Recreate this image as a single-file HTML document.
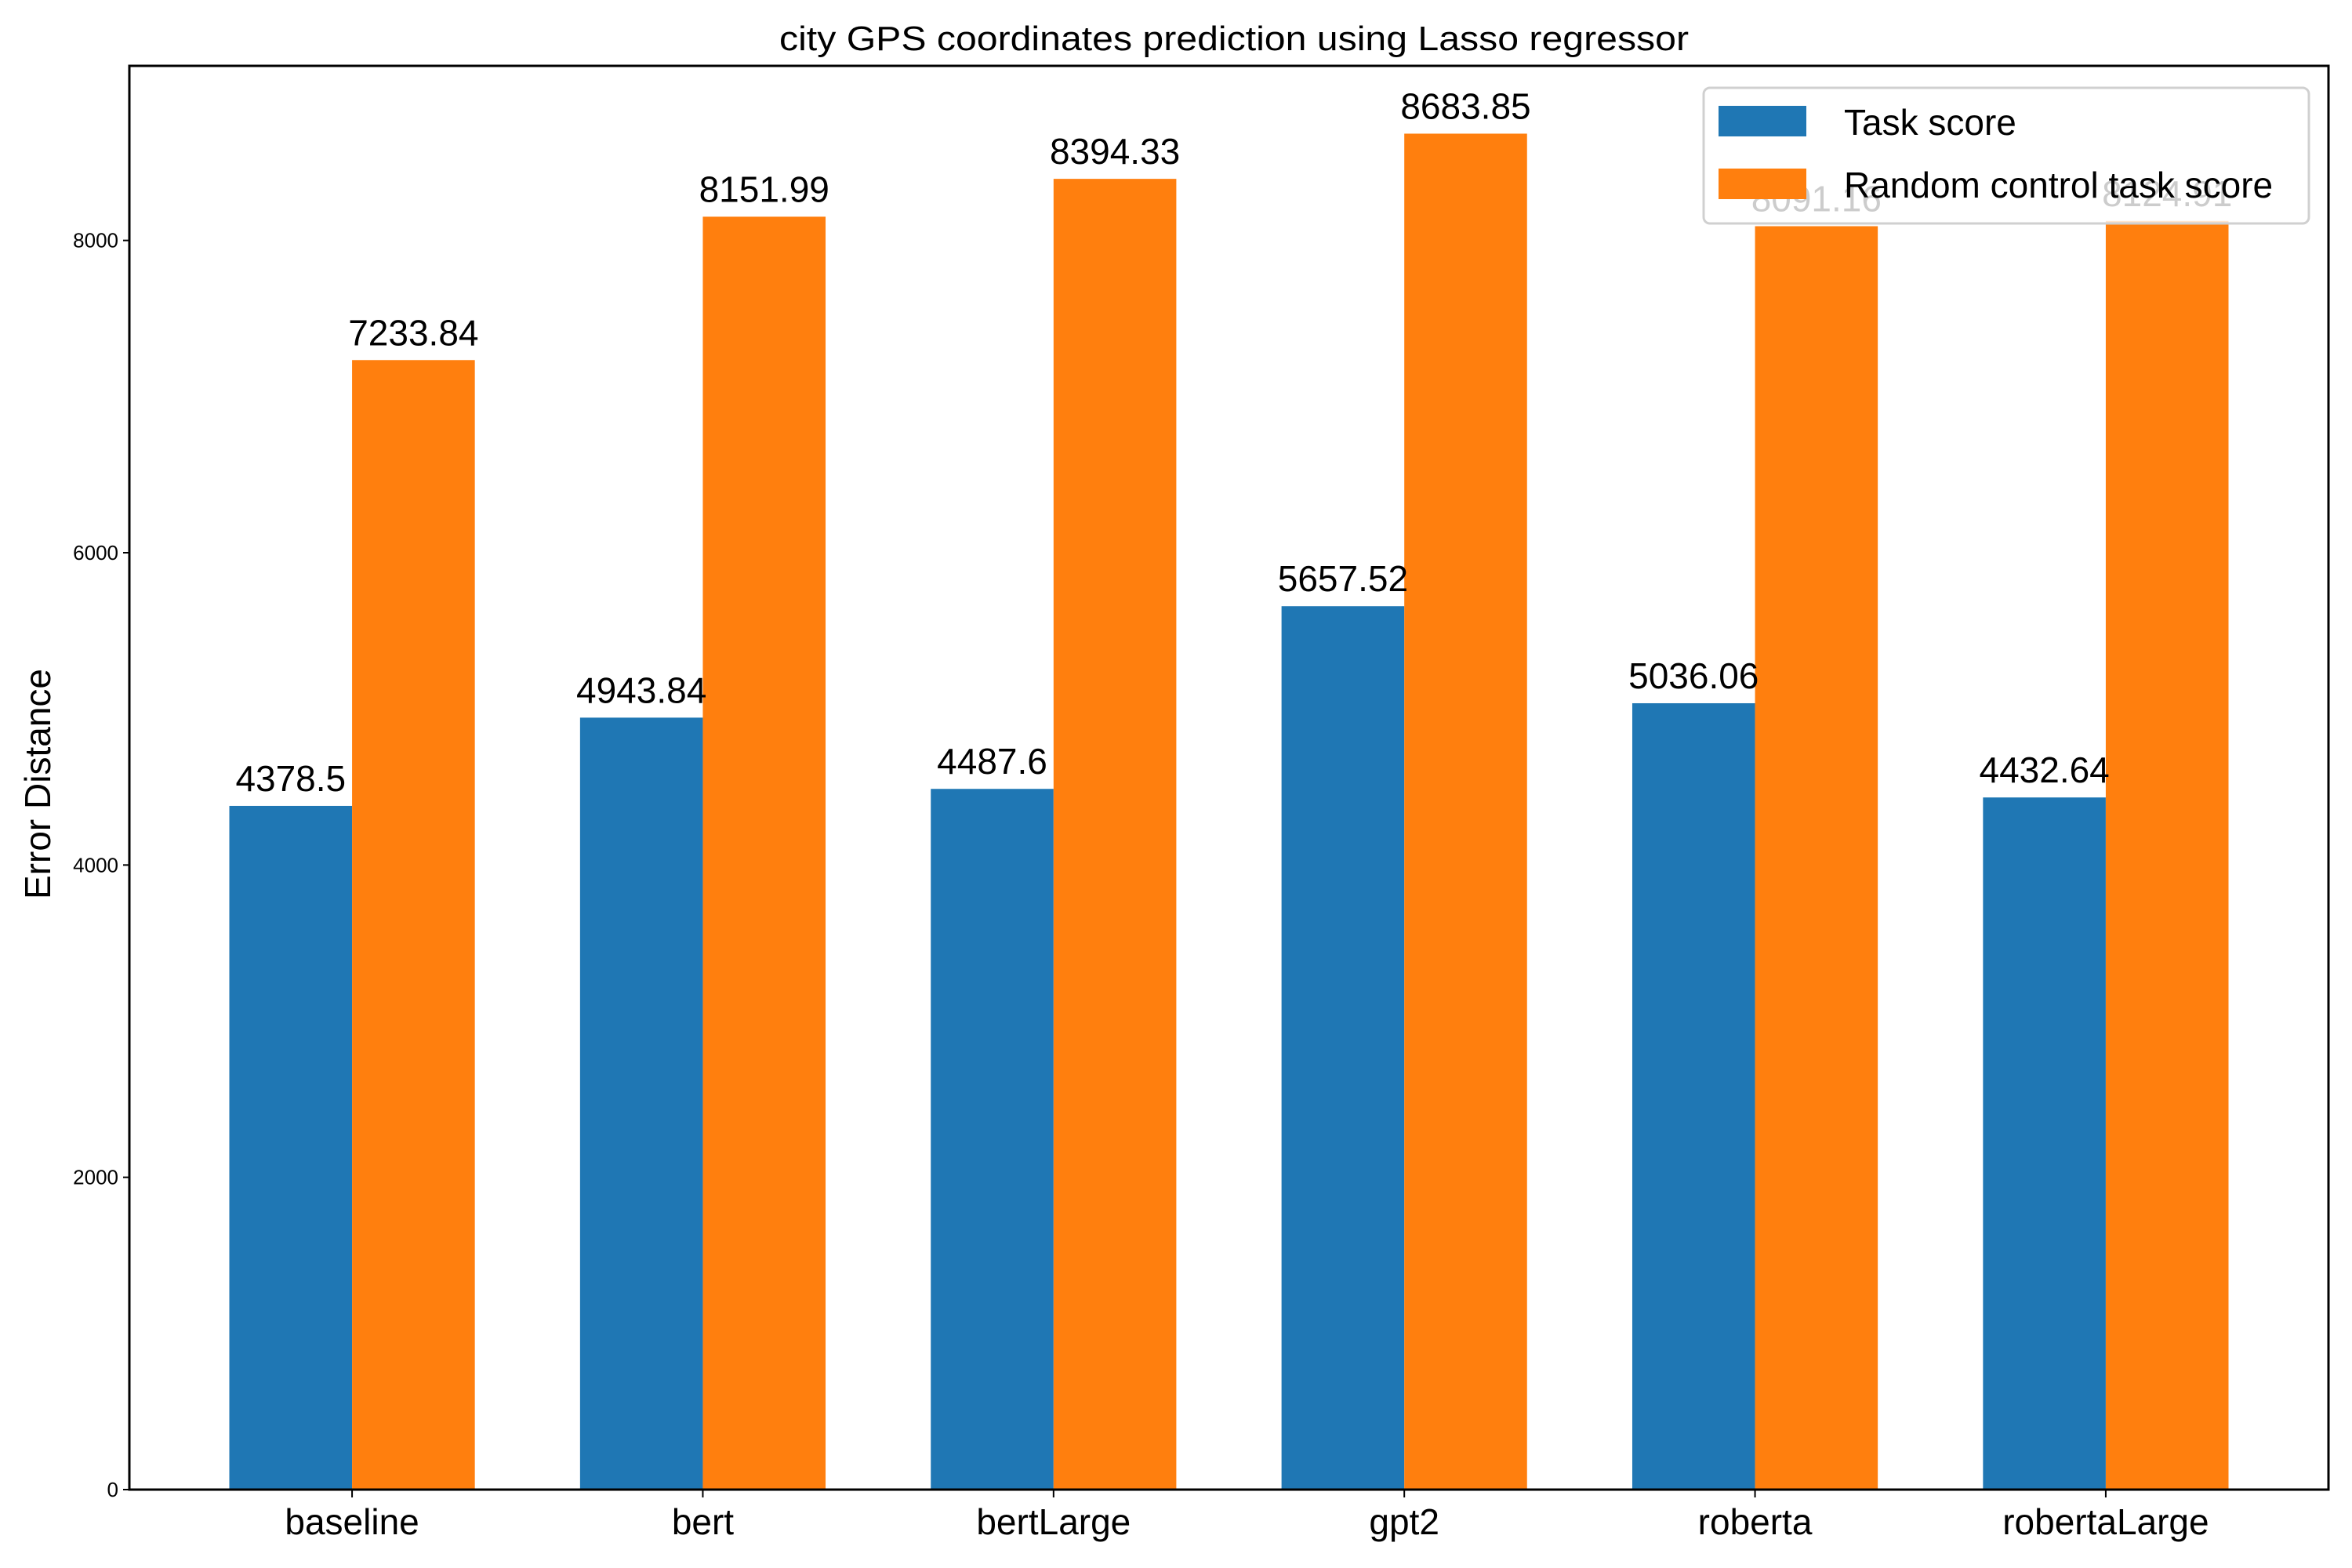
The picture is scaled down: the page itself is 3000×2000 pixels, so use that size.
<!DOCTYPE html>
<html><head><meta charset="utf-8"><style>
html,body{margin:0;padding:0;background:#fff;}
svg{display:block;}
text{font-family:"Liberation Sans",sans-serif;}
</style></head>
<body>
<svg id="chart" width="3000" height="2000" viewBox="0 0 3000 2000" xmlns="http://www.w3.org/2000/svg">
<rect width="3000" height="2000" fill="#fff"/>
<text x="1574" y="64" font-size="44" text-anchor="middle" textLength="1160" lengthAdjust="spacingAndGlyphs">city GPS coordinates prediction using Lasso regressor</text>
<text x="0" y="0" font-size="46" text-anchor="middle" transform="translate(64,1000) rotate(-90)">Error Distance</text>
<g id="bars"></g>
<g id="labels"></g>
<g id="axes"></g>
<g>
<rect x="2173" y="112" width="772" height="173" rx="8" fill="#fff" fill-opacity="0.8" stroke="#d0d0d0" stroke-width="3"/>
<rect x="2192" y="135" width="112" height="39" fill="#1f77b4"/>
<text x="2352" y="172" font-size="46">Task score</text>
<rect x="2192" y="215" width="112" height="39" fill="#ff7f0e"/>
<text x="2352" y="252" font-size="46">Random control task score</text>
</g>
</svg>
<script>
const categories = ["baseline","bert","bertLarge","gpt2","roberta","robertaLarge"];
const taskScores = [4378.5, 4943.84, 4487.6, 5657.52, 5036.06, 4432.64];
const randomScores = [7233.84, 8151.99, 8394.33, 8683.85, 8091.16, 8124.91];
const yTicks = [0, 2000, 4000, 6000, 8000];

const NS = "http://www.w3.org/2000/svg";
const L = 165, R = 2970, T = 84, B = 1900;
const barW = 0.35;
const allVals = taskScores.concat(randomScores);
const yMax = Math.max(...allVals) * 1.05;
const xMin = -barW - 0.05 * (categories.length - 1 + 2 * barW);
const xMax = categories.length - 1 + barW + 0.05 * (categories.length - 1 + 2 * barW);
function xs(v){ return L + (v - xMin) / (xMax - xMin) * (R - L); }
function ys(v){ return B - v / yMax * (B - T); }
function mk(tag, attrs, parent){
  const e = document.createElementNS(NS, tag);
  for (const k in attrs) e.setAttribute(k, attrs[k]);
  parent.appendChild(e);
  return e;
}
const gb = document.getElementById('bars');
const gl = document.getElementById('labels');
const ga = document.getElementById('axes');
const series = [{vals: taskScores, color: "#1f77b4", off: -barW/2, name: "task"},
                {vals: randomScores, color: "#ff7f0e", off: barW/2, name: "random"}];
series.forEach(s => {
  s.vals.forEach((v, i) => {
    const x0 = xs(i + s.off - barW/2), x1 = xs(i + s.off + barW/2);
    const r = mk('rect', {x: x0, y: ys(v), width: x1 - x0, height: B - ys(v), fill: s.color}, gb);
    
    
  });
});
series.forEach(s => {
  s.vals.forEach((v, i) => {
    const t = mk('text', {x: xs(i + s.off), y: ys(v) - 19, 'font-size': 46, 'text-anchor': 'middle'}, gl);
    t.textContent = String(v);
    
    
  });
});
const frame = mk('rect', {x: L, y: T, width: R - L, height: B - T, fill: 'none', stroke: '#000', 'stroke-width': 3}, ga);


yTicks.forEach(v => {
  const y = ys(v);
  const ln = mk('line', {x1: L - 8, x2: L, y1: y, y2: y, stroke: '#000', 'stroke-width': 2}, ga);
  
  
  const t = mk('text', {x: L - 14, y: y + 9, 'font-size': 26, 'text-anchor': 'end', 'font-family': '"Liberation Serif",serif'}, ga);
  t.textContent = String(v);
  
  
});
categories.forEach((c, i) => {
  const x = xs(i);
  const ln = mk('line', {x1: x, x2: x, y1: B, y2: B + 10, stroke: '#000', 'stroke-width': 2}, ga);
  
  
  const t = mk('text', {x: x, y: B + 57, 'font-size': 46, 'text-anchor': 'middle'}, ga);
  t.textContent = c;
  
  
});
</script>
</body></html>
